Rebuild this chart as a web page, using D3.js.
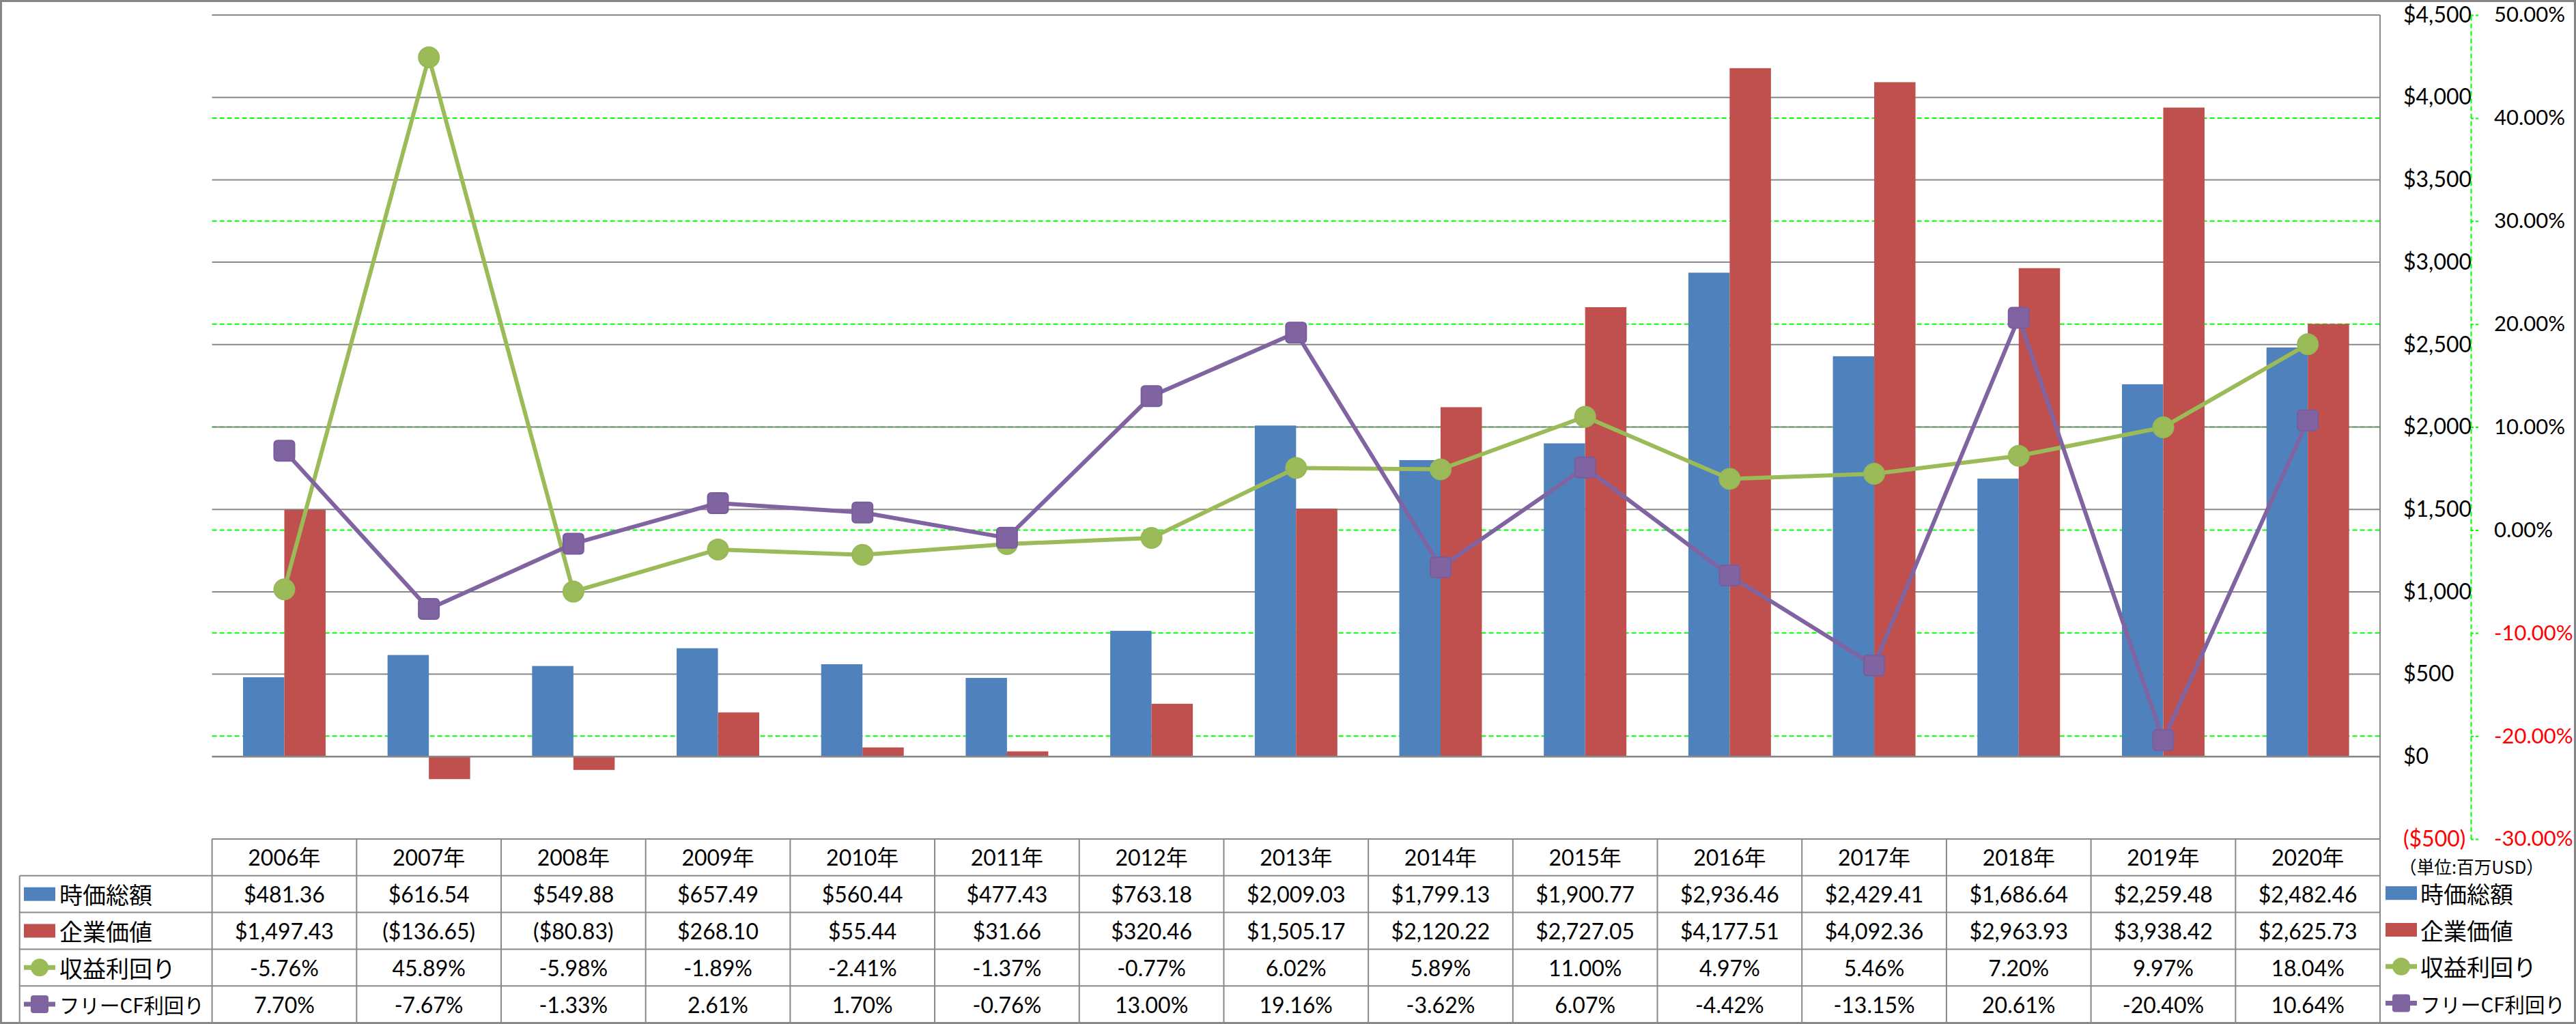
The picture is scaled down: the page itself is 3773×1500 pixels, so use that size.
<!DOCTYPE html>
<html><head><meta charset="utf-8">
<script src="https://cdn.jsdelivr.net/npm/d3@7"></script>
<style>body{margin:0;background:#fff} svg{display:block}</style>
</head><body><div id="chart"></div>
<script>
// ---------- data ----------
const years = ["2006年","2007年","2008年","2009年","2010年","2011年","2012年","2013年","2014年","2015年","2016年","2017年","2018年","2019年","2020年"];
const marketCap = [481.36,616.54,549.88,657.49,560.44,477.43,763.18,2009.03,1799.13,1900.77,2936.46,2429.41,1686.64,2259.48,2482.46];
const enterpriseValue = [1497.43,-136.65,-80.83,268.10,55.44,31.66,320.46,1505.17,2120.22,2727.05,4177.51,4092.36,2963.93,3938.42,2625.73];
const earningsYield = [-5.76,45.89,-5.98,-1.89,-2.41,-1.37,-0.77,6.02,5.89,11.00,4.97,5.46,7.20,9.97,18.04];
const fcfYield = [7.70,-7.67,-1.33,2.61,1.70,-0.76,13.00,19.16,-3.62,6.07,-4.42,-13.15,20.61,-20.40,10.64];
const dollarTicks = [-500,0,500,1000,1500,2000,2500,3000,3500,4000,4500];
const pctTicks = [-30,-20,-10,0,10,20,30,40,50];
const seriesNames = ["時価総額","企業価値","収益利回り","フリーCF利回り"];
const unitLabel = "（単位:百万USD）";

// ---------- layout ----------
const W = 3773, H = 1500;
const L = 310.6, R = 3486, T = 22, B = 1229, TB = 1498;
const colors = {mc:"#4F81BD", ev:"#C0504D", ey:"#9BBB59", fcf:"#8064A2"};
const numFont = "Lato, 'Noto Sans CJK JP', sans-serif";
const cjkFont = "'Noto Sans CJK JP', sans-serif";

const svg = d3.select("#chart").append("svg").attr("width", W).attr("height", H);
svg.append("rect").attr("x",1.5).attr("y",1.5).attr("width",W-3).attr("height",H-3)
  .attr("fill","#fff").attr("stroke","#868686").attr("stroke-width",3);

const x = d3.scaleBand().domain(years).range([L, R]).paddingInner(0).paddingOuter(0);
const bw = x.bandwidth() / 3.5;
const inner = d3.scaleBand().domain([0,1]).range([0, 2*bw]);
const yL = d3.scaleLinear().domain([-500, 4500]).range([B, T]);
const yR = d3.scaleLinear().domain([-30, 50]).range([B, T]);
const cx = d => x(d) + x.bandwidth()/2;

// green dashed secondary gridlines
svg.append("g").selectAll("line").data(pctTicks).join("line")
  .attr("x1", L).attr("x2", R).attr("y1", d => yR(d)).attr("y2", d => yR(d))
  .attr("stroke", "#00FF00").attr("stroke-width", 2).attr("stroke-dasharray", "7,4");
// gray primary gridlines
svg.append("g").selectAll("line").data(dollarTicks).join("line")
  .attr("x1", L).attr("x2", R).attr("y1", d => yL(d)).attr("y2", d => yL(d))
  .attr("stroke", "#888").attr("stroke-width", 2);

// bars
const barData = years.map((yr,i) => [
  {yr, k:0, v: marketCap[i], c: colors.mc},
  {yr, k:1, v: enterpriseValue[i], c: colors.ev}
]).flat();
svg.append("g").selectAll("rect").data(barData).join("rect")
  .attr("x", d => x(d.yr) + (x.bandwidth() - 2*bw)/2 + inner(d.k))
  .attr("width", inner.bandwidth())
  .attr("y", d => Math.min(yL(0), yL(d.v)))
  .attr("height", d => Math.abs(yL(d.v) - yL(0)))
  .attr("fill", d => d.c);

// zero axis line
svg.append("line").attr("x1", L).attr("x2", R).attr("y1", yL(0)).attr("y2", yL(0))
  .attr("stroke", "#888").attr("stroke-width", 2.5);

// plot right border
svg.append("line").attr("x1", R).attr("x2", R).attr("y1", T).attr("y2", TB)
  .attr("stroke", "#888").attr("stroke-width", 2);

// lines
const line = d3.line().x(d => cx(d.yr)).y(d => yR(d.v));
const eyData = years.map((yr,i) => ({yr, v: earningsYield[i]}));
const fcfData = years.map((yr,i) => ({yr, v: fcfYield[i]}));
svg.append("path").datum(eyData).attr("d", line).attr("fill","none")
  .attr("stroke", colors.ey).attr("stroke-width", 6).attr("stroke-linejoin","round");
svg.append("path").datum(fcfData).attr("d", line).attr("fill","none")
  .attr("stroke", colors.fcf).attr("stroke-width", 6).attr("stroke-linejoin","round");
svg.append("g").selectAll("circle").data(eyData).join("circle")
  .attr("cx", d => cx(d.yr)).attr("cy", d => yR(d.v)).attr("r", 15)
  .attr("fill", colors.ey).attr("stroke", "#97b857").attr("stroke-width", 2);
svg.append("g").selectAll("rect").data(fcfData).join("rect")
  .attr("x", d => cx(d.yr) - 15).attr("y", d => yR(d.v) - 15)
  .attr("width", 30).attr("height", 30).attr("rx", 5)
  .attr("fill", colors.fcf).attr("stroke", "#7a5c9c").attr("stroke-width", 2);

// axes
const fmtD = d3.format("$,");
const dollarFmt = v => v < 0 ? "(" + fmtD(-v) + ")" : fmtD(v);
const gD = svg.append("g").attr("transform", "translate(3520,0)")
  .call(d3.axisRight(yL).tickValues(dollarTicks).tickSize(0).tickPadding(0).tickFormat(dollarFmt));
gD.select(".domain").remove();
gD.selectAll("text").attr("font-family", numFont).attr("font-size", 32)
  .attr("fill", d => d < 0 ? "#FF0000" : "#000");

const gP = svg.append("g").attr("transform", "translate(3619,0)")
  .call(d3.axisRight(yR).tickValues(pctTicks).tickSize(11).tickSizeOuter(0).tickPadding(23)
    .tickFormat(d => d.toFixed(2) + "%"));
gP.select(".domain").attr("stroke", "#00FF00").attr("stroke-width", 2).attr("stroke-dasharray", "7,4");
gP.selectAll(".tick line").attr("stroke", "#00FF00").attr("stroke-width", 2).attr("stroke-dasharray", "4,3");
gP.selectAll("text").attr("font-family", numFont).attr("font-size", 31)
  .attr("fill", d => d < 0 ? "#FF0000" : "#000");

// ---------- data table ----------
const rows = ["head"].concat(seriesNames);
const ry = d3.scaleBand().domain(rows).range([B, TB]);
const rc = r => ry(r) + ry.bandwidth()/2;
const tbl = svg.append("g");
const grid = "#888";
tbl.append("line").attr("x1", L).attr("x2", R).attr("y1", B).attr("y2", B).attr("stroke", grid).attr("stroke-width", 2);
tbl.selectAll("line.h").data(seriesNames).join("line").attr("class","h")
  .attr("x1", 28.7).attr("x2", R).attr("y1", d => ry(d)).attr("y2", d => ry(d))
  .attr("stroke", grid).attr("stroke-width", 2);
tbl.append("line").attr("x1", 28.7).attr("x2", R).attr("y1", TB).attr("y2", TB).attr("stroke", grid).attr("stroke-width", 2);
tbl.selectAll("line.v").data(years).join("line").attr("class","v")
  .attr("x1", d => x(d)).attr("x2", d => x(d)).attr("y1", B).attr("y2", TB)
  .attr("stroke", grid).attr("stroke-width", 2);
tbl.append("line").attr("x1", 28.7).attr("x2", 28.7).attr("y1", ry(seriesNames[0])).attr("y2", TB)
  .attr("stroke", grid).attr("stroke-width", 2);

tbl.selectAll("text.yr").data(years).join("text").attr("class","yr")
  .attr("x", d => cx(d)).attr("y", rc("head")).attr("text-anchor","middle")
  .attr("dominant-baseline","central").attr("font-family", numFont).attr("font-size", 32)
  .text(d => d);

const fmtM = d3.format("$,.2f");
const moneyFmt = v => v < 0 ? "(" + fmtM(-v) + ")" : fmtM(v);
const pctFmt = v => v.toFixed(2) + "%";
const tableRows = [
  {name: seriesNames[0], vals: marketCap, f: moneyFmt},
  {name: seriesNames[1], vals: enterpriseValue, f: moneyFmt},
  {name: seriesNames[2], vals: earningsYield, f: pctFmt},
  {name: seriesNames[3], vals: fcfYield, f: pctFmt}
];
tableRows.forEach(row => {
  tbl.append("g").selectAll("text").data(row.vals).join("text")
    .attr("x", (d,i) => cx(years[i])).attr("y", rc(row.name))
    .attr("text-anchor","middle").attr("dominant-baseline","central")
    .attr("font-family", numFont).attr("font-size", 32)
    .text(d => row.f(d));
});

function legendKey(g, k, x0, y0) {
  if (k < 2) {
    g.append("rect").attr("x", x0).attr("y", y0 - 10).attr("width", 46).attr("height", 20)
      .attr("fill", k === 0 ? colors.mc : colors.ev);
  } else {
    const c = k === 2 ? colors.ey : colors.fcf;
    g.append("line").attr("x1", x0).attr("x2", x0 + 46).attr("y1", y0).attr("y2", y0)
      .attr("stroke", c).attr("stroke-width", 7);
    if (k === 2) g.append("circle").attr("cx", x0 + 23).attr("cy", y0).attr("r", 13).attr("fill", c);
    else g.append("rect").attr("x", x0 + 10).attr("y", y0 - 13).attr("width", 26).attr("height", 26)
      .attr("rx", 4).attr("fill", c);
  }
}
function legendText(g, name, x0, y0) {
  const long = name.length > 6;
  const t = g.append("text").attr("x", x0).attr("y", y0).attr("dominant-baseline","central")
    .attr("font-family", cjkFont).attr("font-size", long ? 30 : 34).text(name);
  if (long) t.attr("textLength", 212).attr("lengthAdjust", "spacingAndGlyphs");
}
const leg = svg.append("g");
seriesNames.forEach((name, k) => {
  legendKey(leg, k, 35, rc(name));
  legendText(leg, name, 87, rc(name));
  legendKey(leg, k, 3494, rc(name) - 1.5);
  legendText(leg, name, 3545, rc(name) - 1.5);
});
leg.append("text").attr("x", 3620).attr("y", 1268).attr("text-anchor","middle")
  .attr("dominant-baseline","central").attr("font-family", cjkFont).attr("font-size", 26)
  .attr("textLength", 212).attr("lengthAdjust","spacingAndGlyphs")
  .text(unitLabel);
</script>
</body></html>
